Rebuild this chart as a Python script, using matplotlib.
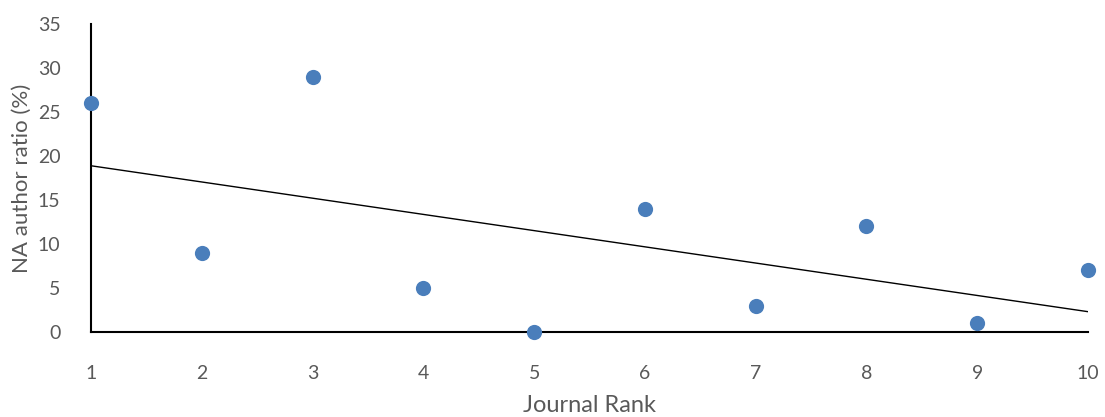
import matplotlib
matplotlib.use("Agg")
import matplotlib.pyplot as plt
import numpy as np

ranks = [1, 2, 3, 4, 5, 6, 7, 8, 9, 10]
na_ratio = [26, 9, 29, 5, 0, 14, 3, 12, 1, 7]
y_ticks = [0, 5, 10, 15, 20, 25, 30, 35]
x_ticks = [1, 2, 3, 4, 5, 6, 7, 8, 9, 10]

plt.rcParams['font.family'] = ['Lato', 'DejaVu Sans']
grey = '#595959'

fig = plt.figure(figsize=(11.05, 4.17), dpi=100)
ax = fig.add_axes([91/1105, 85/417, (1088-91)/1105, (332-24)/417])

x = np.array(ranks, dtype=float)
y = np.array(na_ratio, dtype=float)
slope, intercept = np.polyfit(x, y, 1)
xl = np.array([x.min(), x.max()])
ax.plot(xl, slope*xl + intercept, color='black', lw=1.0, zorder=2)
ax.scatter(x, y, s=120, color='#4A7EBB', zorder=3, clip_on=False, linewidths=0)

ax.set_xlim(1, 10)
ax.set_ylim(0, 35)
ax.set_xticks(x_ticks)
ax.set_yticks(y_ticks)
ax.tick_params(axis='both', length=0, labelsize=14, colors=grey)
ax.tick_params(axis='x', pad=24)
ax.tick_params(axis='y', pad=22)
for s in ['top', 'right']:
    ax.spines[s].set_visible(False)
for s in ['left', 'bottom']:
    ax.spines[s].set_linewidth(1.5)
    ax.spines[s].set_color('black')
ax.set_xlabel('Journal Rank', fontsize=17, color=grey, labelpad=9)
ax.set_ylabel('NA author ratio (%)', fontsize=16, color=grey, labelpad=4)

fig.savefig('out.png', dpi=100)
